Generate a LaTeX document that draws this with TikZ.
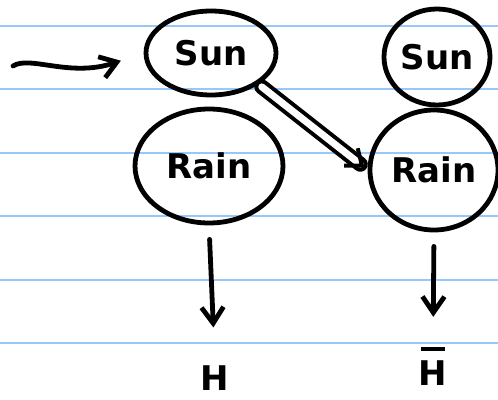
\documentclass[tikz,border=0pt]{standalone}
\usepackage{fontspec}
\setmainfont{DejaVu Sans}
\usetikzlibrary{shapes.geometric,arrows.meta}
\begin{document}
\begin{tikzpicture}[x=1pt,y=-1pt,
  pen/.style={line width=4.8pt,black,line cap=round,line join=round},
  state/.style={pen,draw,ellipse,inner sep=0pt,font=\fontsize{34}{36}\selectfont\bfseries},
  lbl/.style={font=\fontsize{34}{36}\selectfont\bfseries,inner sep=0pt},
  tip/.style={-{Straight Barb[length=16pt,width=22pt,line width=4.8pt]}}]
\useasboundingbox (0,0) rectangle (498,399);
\fill[white] (0,0) rectangle (498,399);
\foreach \y in {26,89,153,216,280,343}
  \draw[line width=1.6pt,color={rgb,255:red,150;green,200;blue,250}] (0,\y) -- (498,\y);
\node[state,minimum width=130pt,minimum height=84pt] (sun1) at (211,53) {Sun};
\node[state,minimum width=148pt,minimum height=114pt] (rain1) at (209,166) {Rain};
\node[state,minimum width=106pt,minimum height=96pt] (sun2) at (437,57) {Sun};
\node[state,minimum width=128pt,minimum height=120pt] (rain2) at (434,170) {Rain};
\node[lbl] (h1) at (215,378) {H};
\node[lbl,align=center] (h2) at (433,366) {\rule{24pt}{4pt}\\[-2pt]H};
\coordinate (start) at (13,66);
\draw[pen,tip,shorten >=24pt] (start) .. controls (30,55) and (70,78) .. (sun1.west);
\draw[pen,double=white,double distance=7pt,line width=4pt,-{Straight Barb[length=14pt,width=22pt,line width=4pt]},shorten <=4pt,shorten >=4pt] (sun1.south east) -- (rain2.west);
\draw[pen,tip,shorten <=14pt,shorten >=38pt] (rain1.south) -- (h1.north);
\draw[pen,tip,shorten <=14pt,shorten >=30pt] (rain2.south) -- (h2.north);
\end{tikzpicture}
\end{document}
